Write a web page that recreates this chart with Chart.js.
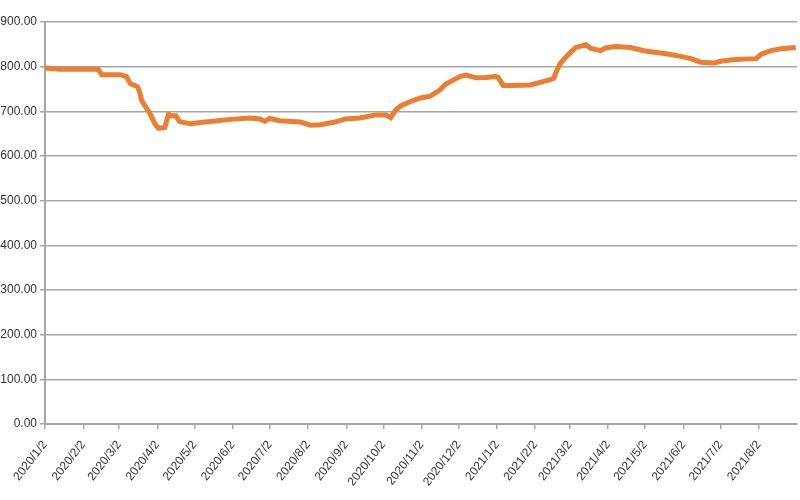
<!DOCTYPE html>
<html>
<head>
<meta charset="utf-8">
<script src="https://cdn.jsdelivr.net/npm/chart.js@4.4.0/dist/chart.umd.min.js"></script>
<style>
  html, body { margin: 0; padding: 0; background: #fff; }
  #wrap { width: 800px; height: 500px; }
</style>
</head>
<body>
<div id="wrap"><canvas id="line"></canvas></div>
<script>
// price series (date, value)
const dates = [
  "2020/1/2", "2020/1/14", "2020/1/30", "2020/2/14", "2020/2/17", "2020/3/3", "2020/3/8", "2020/3/11",
  "2020/3/17", "2020/3/19", "2020/3/20", "2020/3/23", "2020/3/27", "2020/3/31", "2020/4/3", "2020/4/8",
  "2020/4/11", "2020/4/14", "2020/4/17", "2020/4/20", "2020/4/29", "2020/5/7", "2020/5/15", "2020/5/31",
  "2020/6/16", "2020/6/24", "2020/6/28", "2020/7/2", "2020/7/10", "2020/7/27", "2020/8/4", "2020/8/12",
  "2020/8/24", "2020/9/1", "2020/9/13", "2020/9/26", "2020/10/4", "2020/10/8", "2020/10/12", "2020/10/16",
  "2020/10/24", "2020/11/1", "2020/11/9", "2020/11/17", "2020/11/21", "2020/11/29", "2020/12/3", "2020/12/8",
  "2020/12/16", "2020/12/24", "2021/1/1", "2021/1/3", "2021/1/7", "2021/1/13", "2021/1/29", "2021/2/6",
  "2021/2/14", "2021/2/17", "2021/2/19", "2021/2/22", "2021/2/27", "2021/3/3", "2021/3/7", "2021/3/15",
  "2021/3/19", "2021/3/27", "2021/3/31", "2021/4/8", "2021/4/20", "2021/5/2", "2021/5/19", "2021/5/31",
  "2021/6/8", "2021/6/16", "2021/6/27", "2021/7/2", "2021/7/14", "2021/7/31", "2021/8/4", "2021/8/12",
  "2021/8/20", "2021/9/1"
];
const prices = [
  797, 794, 794, 794, 782, 782, 778, 762,
  755, 740, 726, 712, 695, 672, 662, 664,
  693, 690, 690, 677, 672, 675, 677, 682,
  685, 683, 678, 684, 679, 676, 669, 670,
  676, 683, 685, 692, 692, 686, 703, 712,
  722, 730, 734, 748, 760, 772, 778, 781,
  775, 776, 778, 776, 758, 758, 759, 765,
  771, 774, 788, 806, 822, 833, 843, 849,
  841, 836, 842, 845, 843, 835, 829, 823,
  818, 810, 808, 812, 816, 818, 828, 836,
  840, 843
];
// axis tick labels
const monthLabels = [
  "2020/1/2", "2020/2/2", "2020/3/2", "2020/4/2", "2020/5/2", "2020/6/2", "2020/7/2",
  "2020/8/2", "2020/9/2", "2020/10/2", "2020/11/2", "2020/12/2", "2021/1/2", "2021/2/2",
  "2021/3/2", "2021/4/2", "2021/5/2", "2021/6/2", "2021/7/2", "2021/8/2"
];
const yTicks = [0, 100, 200, 300, 400, 500, 600, 700, 800, 900];

// turn "yyyy/m/d" into days since 2020/1/2
function dayNum(s) {
  const p = s.split("/").map(Number);
  return Math.round((Date.UTC(p[0], p[1] - 1, p[2]) - Date.UTC(2020, 0, 2)) / 86400000);
}
const monthDays = monthLabels.map(dayNum);

const gridColor = "#a6a6a6";
const font = { family: "'Liberation Sans', Arial, sans-serif", size: 12 };

new Chart(document.getElementById("line"), {
  type: "line",
  data: {
    datasets: [{
      data: dates.map((d, i) => ({ x: dayNum(d), y: prices[i] })),
      borderColor: "#ed7d31",
      borderWidth: 5,
      pointRadius: 0,
      tension: 0,
      fill: false
    }]
  },
  options: {
    responsive: true,
    maintainAspectRatio: false,
    animation: false,
    layout: { padding: { top: 22, right: 3, left: 0, bottom: 0 } },
    plugins: { legend: { display: false }, tooltip: { enabled: false } },
    scales: {
      x: {
        type: "linear",
        min: 0,
        max: 609,
        afterBuildTicks: (axis) => { axis.ticks = monthDays.map(v => ({ value: v })); },
        afterFit: (axis) => { axis.height = 76; },
        ticks: {
          autoSkip: false,
          maxRotation: 52,
          minRotation: 52,
          color: "#333",
          font: font,
          padding: 9,
          callback: (v) => monthLabels[monthDays.indexOf(v)]
        },
        grid: { drawOnChartArea: false, drawTicks: true, tickLength: 5, color: gridColor, lineWidth: 1.5 },
        border: { color: gridColor, width: 2 }
      },
      y: {
        min: 0,
        max: 900,
        afterBuildTicks: (axis) => { axis.ticks = yTicks.map(v => ({ value: v })); },
        afterFit: (axis) => { axis.width = 45; },
        ticks: {
          color: "#333",
          font: font,
          padding: 3,
          callback: (v) => v.toFixed(2)
        },
        grid: { color: gridColor, lineWidth: 1.5, tickLength: 5 },
        border: { color: gridColor, width: 2 }
      }
    }
  }
});
</script>
</body>
</html>
